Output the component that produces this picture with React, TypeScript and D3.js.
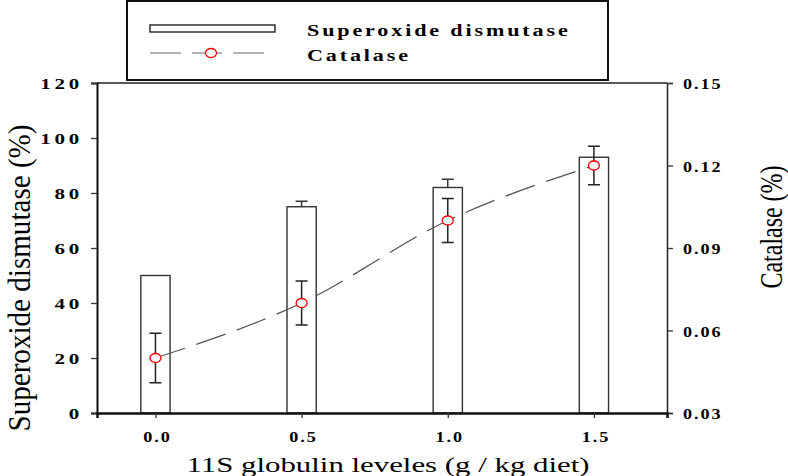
import React, { useRef, useEffect } from 'react';
import * as d3 from 'd3';

// 11S globulin levels (g / kg diet)
const levels = [0, 0.5, 1.0, 1.5];
// Superoxide dismutase (%) bars, with upper error
const sod = [50, 75, 82, 93];
const sodErr = [0, 2, 3, 0];
// Catalase (%) points with error
const catalase = [0.05, 0.07, 0.1, 0.12];
const catalaseErr = [0.009, 0.008, 0.008, 0.007];

const xTicks = [0, 0.5, 1.0, 1.5];
const leftTicks = [0, 20, 40, 60, 80, 100, 120];
const rightTicks = [0.03, 0.06, 0.09, 0.12, 0.15];

const SERIF = 'Liberation Serif, serif';

const App = () => {
  const svgRef = useRef<SVGSVGElement>(null);

  useEffect(() => {
    const width = 788;
    const height = 476;
    const margin = { top: 83, right: 121, bottom: 63, left: 97 };

    const svg = d3.select(svgRef.current);
    svg.selectAll('*').remove();
    svg.attr('width', width).attr('height', height);

    const x = d3.scaleLinear().domain([-0.2, 1.75]).range([margin.left, width - margin.right]);
    const yL = d3.scaleLinear().domain([0, 120]).range([height - margin.bottom, margin.top]);
    const yR = d3.scaleLinear().domain([0.03, 0.15]).range([height - margin.bottom, margin.top]);
    const barW = x(0.1) - x(0);

    // stretched text helper (the picture is wider than it is tall)
    const label = (
      tx: number, ty: number, txt: string, anchor: string,
      size: number, weight: string, spacing: number, sx = 1.3
    ) =>
      svg.append('text')
        .attr('transform', `translate(${tx},${ty}) scale(${sx},1)`)
        .attr('text-anchor', anchor)
        .attr('dominant-baseline', 'central')
        .attr('font-family', SERIF)
        .attr('font-size', size)
        .attr('font-weight', weight)
        .attr('letter-spacing', spacing)
        .attr('fill', '#000')
        .text(txt);

    // frame top line
    svg.append('line')
      .attr('x1', x(-0.2)).attr('x2', x(1.75))
      .attr('y1', yL(120)).attr('y2', yL(120))
      .attr('stroke', '#222').attr('stroke-width', 1.5);

    // bars
    svg.selectAll('.bar')
      .data(levels)
      .join('rect')
      .attr('class', 'bar')
      .attr('x', d => x(d) - barW / 2)
      .attr('y', (d, i) => yL(sod[i]))
      .attr('width', barW)
      .attr('height', (d, i) => yL(0) - yL(sod[i]))
      .attr('fill', '#fff')
      .attr('stroke', '#333')
      .attr('stroke-width', 1.4);

    // SOD error (upper only)
    levels.forEach((d, i) => {
      if (!sodErr[i]) return;
      const cx = x(d);
      svg.append('line')
        .attr('x1', cx).attr('x2', cx)
        .attr('y1', yL(sod[i])).attr('y2', yL(sod[i] + sodErr[i]))
        .attr('stroke', '#333').attr('stroke-width', 1.5);
      svg.append('line')
        .attr('x1', cx - 6).attr('x2', cx + 6)
        .attr('y1', yL(sod[i] + sodErr[i])).attr('y2', yL(sod[i] + sodErr[i]))
        .attr('stroke', '#333').attr('stroke-width', 1.5);
    });

    // catalase dashed curve
    const line = d3.line<number>()
      .x(d => x(d))
      .y((d, i) => yR(catalase[i]))
      .curve(d3.curveMonotoneX);
    svg.append('path')
      .attr('d', line(levels))
      .attr('fill', 'none')
      .attr('stroke', '#555')
      .attr('stroke-width', 1.3)
      .attr('stroke-dasharray', '31,12');

    // catalase error bars
    levels.forEach((d, i) => {
      const cx = x(d);
      const top = yR(catalase[i] + catalaseErr[i]);
      const bot = yR(catalase[i] - catalaseErr[i]);
      svg.append('line')
        .attr('x1', cx).attr('x2', cx).attr('y1', top).attr('y2', bot)
        .attr('stroke', '#222').attr('stroke-width', 1.5);
      [top, bot].forEach(yy => {
        svg.append('line')
          .attr('x1', cx - 6).attr('x2', cx + 6).attr('y1', yy).attr('y2', yy)
          .attr('stroke', '#222').attr('stroke-width', 1.5);
      });
    });

    svg.selectAll('.pt')
      .data(levels)
      .join('ellipse')
      .attr('class', 'pt')
      .attr('cx', d => x(d))
      .attr('cy', (d, i) => yR(catalase[i]))
      .attr('rx', 5.5)
      .attr('ry', 4.5)
      .attr('fill', '#fff')
      .attr('stroke', '#f00')
      .attr('stroke-width', 1.3);

    // axes
    const left = svg.append('g')
      .attr('transform', `translate(${x(-0.2)},0)`)
      .call(d3.axisLeft(yL).tickValues(leftTicks).tickSize(6).tickFormat(() => ''));
    left.select('.domain').attr('stroke', '#111').attr('stroke-width', 2);
    left.selectAll('.tick line').attr('stroke', '#333').attr('stroke-width', 1.3);

    const right = svg.append('g')
      .attr('transform', `translate(${x(1.75)},0)`)
      .call(d3.axisRight(yR).tickValues(rightTicks).tickSize(6).tickFormat(() => ''));
    right.select('.domain').attr('stroke', '#222').attr('stroke-width', 1.5);
    right.selectAll('.tick line').attr('stroke', '#333').attr('stroke-width', 1.3);

    const bottom = svg.append('g')
      .attr('transform', `translate(0,${yL(0)})`)
      .call(d3.axisBottom(x).tickValues(xTicks).tickSize(5).tickFormat(() => ''));
    bottom.select('.domain').attr('stroke', '#111').attr('stroke-width', 2.5);
    bottom.selectAll('.tick line').attr('stroke', '#333').attr('stroke-width', 1.3);

    // tick labels
    leftTicks.forEach(t => label(83, yL(t) + 1, String(t), 'end', 14, 'bold', 2.5, 1.5));
    rightTicks.forEach(t => label(683, yR(t) + 2, t.toFixed(2), 'start', 14, 'bold', 1.5, 1.3));
    xTicks.forEach(t => label(x(t) + 2, 438, t.toFixed(1), 'middle', 14, 'bold', 1.5, 1.3));

    // axis titles
    svg.append('text')
      .attr('x', 388).attr('y', 464)
      .attr('text-anchor', 'middle')
      .attr('dominant-baseline', 'central')
      .attr('textLength', 403)
      .attr('lengthAdjust', 'spacingAndGlyphs')
      .attr('font-family', SERIF)
      .attr('font-size', 22)
      .text('11S globulin leveles (g / kg diet)');

    svg.append('text')
      .attr('transform', `translate(19,278) rotate(-90)`)
      .attr('text-anchor', 'middle')
      .attr('dominant-baseline', 'central')
      .attr('textLength', 307)
      .attr('lengthAdjust', 'spacingAndGlyphs')
      .attr('font-family', SERIF)
      .attr('font-size', 31)
      .text('Superoxide dismutase (%)');

    svg.append('text')
      .attr('transform', `translate(771,227) rotate(-90)`)
      .attr('text-anchor', 'middle')
      .attr('dominant-baseline', 'central')
      .attr('textLength', 123)
      .attr('lengthAdjust', 'spacingAndGlyphs')
      .attr('font-family', SERIF)
      .attr('font-size', 31)
      .text('Catalase (%)');

    // legend
    const lg = svg.append('g');
    lg.append('rect')
      .attr('x', 127).attr('y', 1).attr('width', 481).attr('height', 79)
      .attr('fill', '#fff').attr('stroke', '#111').attr('stroke-width', 2);
    lg.append('rect')
      .attr('x', 150).attr('y', 25).attr('width', 125).attr('height', 7)
      .attr('fill', '#fff').attr('stroke', '#111').attr('stroke-width', 1.3);
    [[150, 181], [192, 222], [233, 264]].forEach(([a, b]) => {
      lg.append('line')
        .attr('x1', a).attr('x2', b).attr('y1', 53).attr('y2', 53)
        .attr('stroke', '#999').attr('stroke-width', 1.5);
    });
    lg.append('ellipse')
      .attr('cx', 211).attr('cy', 53).attr('rx', 5.5).attr('ry', 4.5)
      .attr('fill', '#fff').attr('stroke', '#f00').attr('stroke-width', 1.3);
    label(307, 30, 'Superoxide dismutase', 'start', 17, 'bold', 2.2);
    label(307, 55, 'Catalase', 'start', 17, 'bold', 2.2);
  }, []);

  return (
    <div style={{ position: 'absolute', left: 0, top: 0 }}>
      <svg ref={svgRef} style={{ display: 'block' }} />
    </div>
  );
};

export default App;
